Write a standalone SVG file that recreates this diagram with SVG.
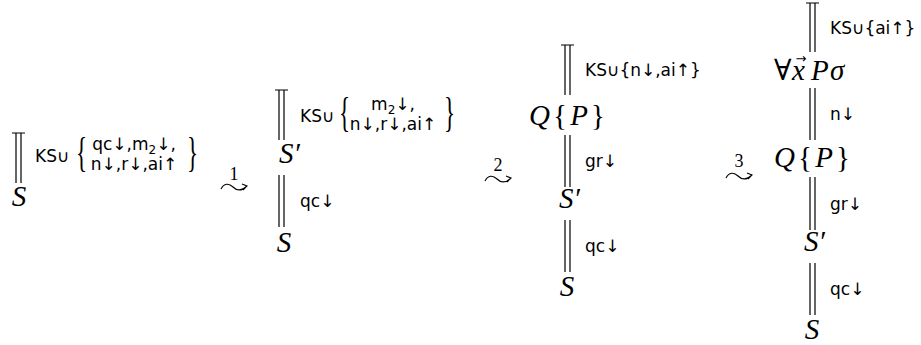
<svg xmlns="http://www.w3.org/2000/svg" width="921" height="345" viewBox="0 0 921 345">
<style>
.m{font-family:"Liberation Serif","DejaVu Serif",serif;font-style:italic;font-size:29px;fill:#000}
.u{font-style:normal}
.l{font-family:"DejaVu Sans",sans-serif;font-size:17px;fill:#000}
.s{font-size:12px}
.b{font-family:"Liberation Serif","DejaVu Serif",serif;font-size:42px;fill:#000}
.n{font-family:"Liberation Serif","DejaVu Serif",serif;font-size:18px;fill:#000}
.v{font-family:"DejaVu Sans",sans-serif;font-size:13px;fill:#000}
.ln{stroke:#000;stroke-width:1.2;fill:none}
.sq{stroke:#000;stroke-width:1.1;fill:none}
</style>
<defs>
<path id="lt" d="M0,2 C3,-4 8,-4 12,0 S21,4 26,-1 M21,-3 L26,-1 L22,3"/>
</defs>
<g id="connectors" class="ln">
<path d="M12,133H25M16,133V183M21,133V183"/>
<path d="M275,90H288M279,90V140M284,90V140M279,175V227M284,175V227"/>
<path d="M561,45H574M565,45V95M570,45V95M565,135V187M570,135V187M565,220V272M570,220V272"/>
<path d="M806,3H819M810,3V52M815,3V52M810,88V140M815,88V140M810,177V230M815,177V230M810,263V315M815,263V315"/>
</g>
<g id="tree1">
<text class="m" x="19" y="206" text-anchor="middle">S</text>
<text class="l" x="35" y="162">KS∪</text>
<text class="b" x="76" y="166" transform="translate(76 156) scale(0.55 1) translate(-76 -156)">{</text>
<text class="l" x="134" y="150" text-anchor="middle">qc↓,m<tspan class="s" dy="4">2</tspan><tspan dy="-4">↓,</tspan></text>
<text class="l" x="134" y="170" text-anchor="middle">n↓,r↓,ai↑</text>
<text class="b" x="187" y="166" transform="translate(187 156) scale(0.55 1) translate(-187 -156)">}</text>
</g>
<g id="arrow1">
<text class="n" x="234" y="180" text-anchor="middle">1</text>
<use href="#lt" x="221" y="187" class="sq"/>
</g>
<g id="tree2">
<text class="m" x="279" y="163">S′</text>
<text class="m" x="284" y="252" text-anchor="middle">S</text>
<text class="l" x="300" y="122">KS∪</text>
<text class="b" x="339" y="126" transform="translate(339 116) scale(0.55 1) translate(-339 -116)">{</text>
<text class="l" x="393" y="110" text-anchor="middle">m<tspan class="s" dy="4">2</tspan><tspan dy="-4">↓,</tspan></text>
<text class="l" x="393" y="130" text-anchor="middle">n↓,r↓,ai↑</text>
<text class="b" x="444" y="126" transform="translate(444 116) scale(0.55 1) translate(-444 -116)">}</text>
<text class="l" x="300" y="207">qc↓</text>
</g>
<g id="arrow2">
<text class="n" x="498" y="171" text-anchor="middle">2</text>
<use href="#lt" x="485" y="179" class="sq"/>
</g>
<g id="tree3">
<text class="m" x="529" y="125" textLength="76" lengthAdjust="spacing">Q<tspan class="u">{</tspan>P<tspan class="u">}</tspan></text>
<text class="m" x="559" y="208">S′</text>
<text class="m" x="567" y="296" text-anchor="middle">S</text>
<text class="l" x="585" y="76">KS∪{n↓,ai↑}</text>
<text class="l" x="585" y="167">gr↓</text>
<text class="l" x="585" y="252">qc↓</text>
</g>
<g id="arrow3">
<text class="n" x="739" y="167" text-anchor="middle">3</text>
<use href="#lt" x="726" y="176" class="sq"/>
</g>
<g id="tree4">
<text class="m" y="80"><tspan class="u" x="774">∀</tspan><tspan x="792">x</tspan><tspan x="811">P</tspan><tspan x="830">σ</tspan></text>
<text class="v" x="801" y="63" text-anchor="middle">→</text>
<text class="l" x="830" y="34">KS∪{ai↑}</text>
<text class="l" x="830" y="120">n↓</text>
<text class="m" x="774" y="167" textLength="76" lengthAdjust="spacing">Q<tspan class="u">{</tspan>P<tspan class="u">}</tspan></text>
<text class="l" x="830" y="210">gr↓</text>
<text class="m" x="804" y="251">S′</text>
<text class="m" x="812" y="339" text-anchor="middle">S</text>
<text class="l" x="830" y="295">qc↓</text>
</g>
</svg>
